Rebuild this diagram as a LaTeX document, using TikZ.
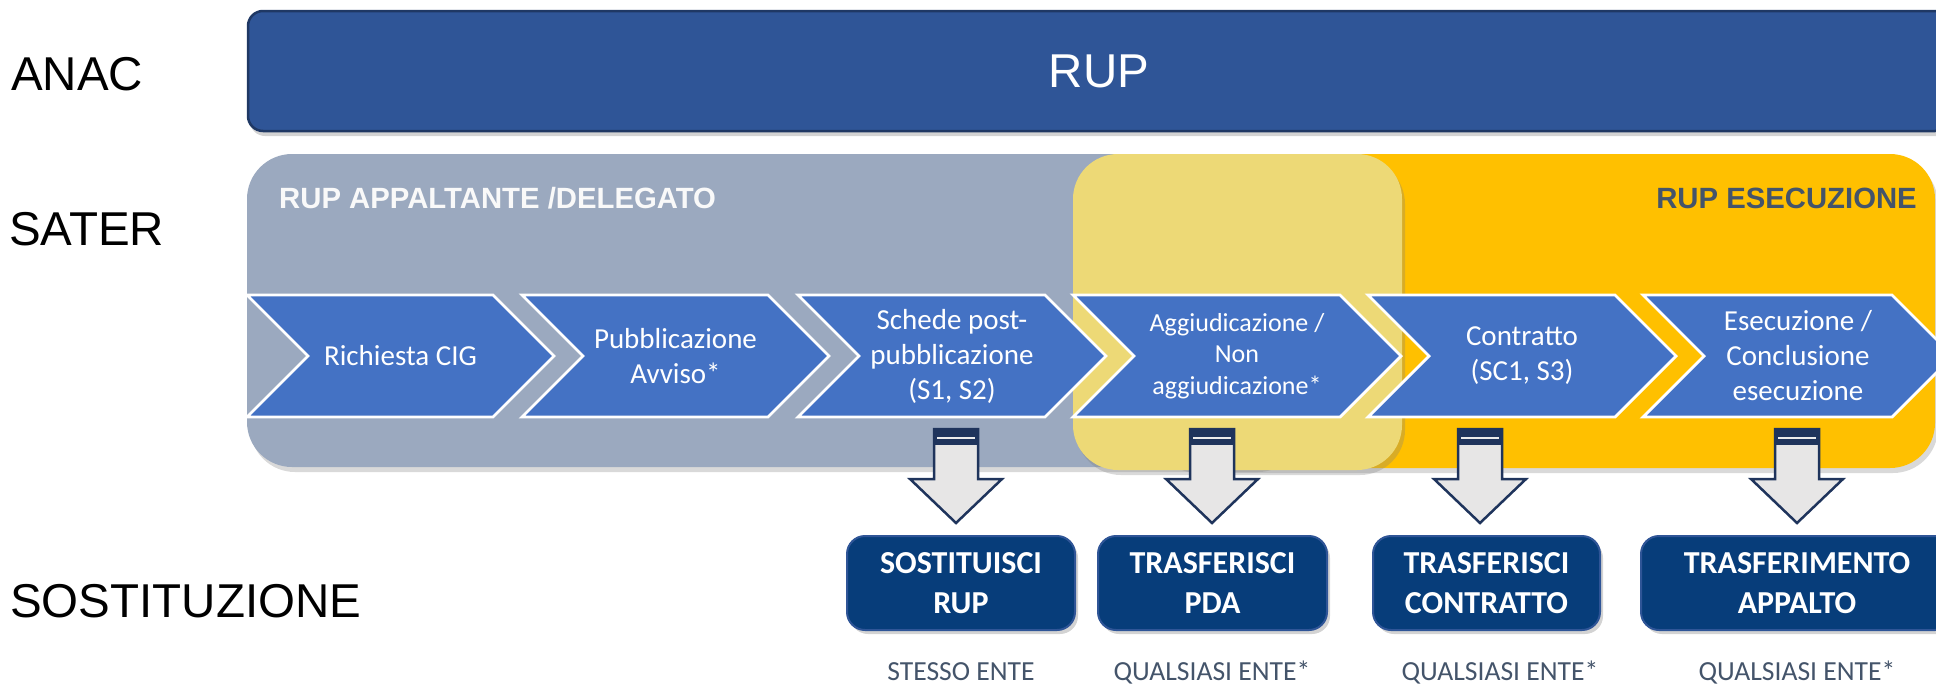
\documentclass[tikz,border=0pt]{standalone}
\usepackage{fontspec}
\setmainfont{Carlito}
\newfontfamily\arialf{Liberation Sans}
\usetikzlibrary{shadows}
\definecolor{rupblue}{RGB}{47,85,151}
\definecolor{rupborder}{RGB}{31,56,100}
\definecolor{grayreg}{RGB}{155,169,191}
\definecolor{lightyel}{RGB}{237,217,118}
\definecolor{yelreg}{RGB}{255,192,0}
\definecolor{chevblue}{RGB}{68,114,196}
\definecolor{boxblue}{RGB}{7,61,122}
\definecolor{boxborder}{RGB}{47,85,151}
\definecolor{slate}{RGB}{68,84,106}
\definecolor{arrdark}{RGB}{31,52,92}
\definecolor{arrfill}{RGB}{231,230,230}
\tikzset{
 chev/.style={fill=chevblue, draw=white, line width=2.8pt, line join=miter},
 chevtext/.style={text=white, align=center, inner sep=0pt, font=\fontsize{29}{35}\selectfont},
 lanelabel/.style={anchor=base west, inner sep=0pt, font=\arialf\fontsize{47.5}{57}\selectfont},
 regtitle/.style={inner sep=0pt, font=\arialf\bfseries\fontsize{29.3}{35}\selectfont},
 sostbox/.style={fill=boxblue, draw=boxborder, line width=2pt, rounded corners=18pt, minimum height=94pt, text=white, align=center, inner sep=0pt, font=\bfseries\fontsize{32}{40}\selectfont, drop shadow={opacity=0.35, shadow xshift=3pt, shadow yshift=-4pt}},
 enttext/.style={anchor=base, inner sep=0pt, text=slate, font=\fontsize{27.6}{33}\selectfont},
 regshadow/.style={drop shadow={opacity=0.3, shadow xshift=3pt, shadow yshift=-5pt}},
 arrbody/.style={fill=arrfill, draw=arrdark, line width=2.5pt, line join=miter},
}
\newcommand\chevron[2]{%
 \draw[chev] (#1,295) -- ++(#2,0) -- ++(61,61) -- ++(-61,61) -- ++(-#2,0) -- ++(61,-61) -- cycle;}
\newcommand\sostarrow[1]{%
 \begin{scope}[shift={(#1)}]
  \draw[arrbody] (-22,0) -- (22,0) -- (22,50) -- (46,50) -- (0,94) -- (-46,50) -- (-22,50) -- cycle;
  \fill[arrdark] (-22,0) rectangle (22,16);
  \draw[white!85!gray, line width=2.5pt] (-19,9) -- (19,9);
 \end{scope}}
\begin{document}
\begin{tikzpicture}[x=1pt,y=-1pt]
\useasboundingbox (0,0) rectangle (1936,683);
\clip (0,0) rectangle (1936,683);
% lane labels
\node[lanelabel] (lanac) at (11,90) {ANAC};
\node[lanelabel] (lsater) at (9,245) {SATER};
\node[lanelabel] (lsost) at (10,617) {SOSTITUZIONE};
% RUP bar
\node[draw=rupborder, fill=rupblue, line width=2.5pt, rounded corners=15pt,
      minimum width=1702pt, minimum height=120pt, inner sep=0pt, text=white,
      font=\arialf\fontsize{47.5}{57}\selectfont,
      drop shadow={opacity=0.35, shadow xshift=2pt, shadow yshift=-5pt}] (rup) at (1099,71) {RUP};
% regions
\fill[grayreg, rounded corners=45pt, regshadow] (247,154) rectangle (1300,467);
\fill[yelreg, rounded corners=45pt, regshadow] (1150,154) rectangle (1935,468);
\fill[lightyel, rounded corners=45pt, regshadow] (1073,154) rectangle (1402,470);
\node[regtitle, anchor=base west, text=white!95!gray] (tapp) at (279,208) {RUP APPALTANTE /DELEGATO};
\node[regtitle, anchor=base east, text=slate] (tese) at (1917,208) {RUP ESECUZIONE};
% chevrons
\chevron{247}{246}
\chevron{522}{246}
\chevron{798}{247}
\chevron{1073}{267}
\chevron{1368}{247}
\chevron{1643}{249}
\node[chevtext] (c1) at (400.5,356) {Richiesta CIG};
\node[chevtext] (c2) at (675.5,356) {Pubblicazione\\Avviso*};
\node[chevtext] (c3) at (952,356) {Schede post-\\pubblicazione\\(S1, S2)};
\node[chevtext, font=\fontsize{26}{31.5}\selectfont] (c4) at (1237,356) {Aggiudicazione /\\Non\\aggiudicazione*};
\node[chevtext] (c5) at (1522,356) {Contratto\\(SC1, S3)};
\node[chevtext] (c6) at (1798,356) {Esecuzione /\\Conclusione\\esecuzione};
% arrows
\coordinate (a1) at (956,429);
\coordinate (a2) at (1212,429);
\coordinate (a3) at (1480,429);
\coordinate (a4) at (1797,429);
\sostarrow{a1}
\sostarrow{a2}
\sostarrow{a3}
\sostarrow{a4}
% boxes
\node[sostbox, minimum width=228pt] (b1) at (961,583) {SOSTITUISCI\\RUP};
\node[sostbox, minimum width=229pt] (b2) at (1212.5,583) {TRASFERISCI\\PDA};
\node[sostbox, minimum width=227pt] (b3) at (1486.5,583) {TRASFERISCI\\CONTRATTO};
\node[sostbox, minimum width=312pt] (b4) at (1797,583) {TRASFERIMENTO\\APPALTO};
% entity texts
\node[enttext] (t1) at (961,680) {STESSO ENTE};
\node[enttext] (t2) at (1212,680) {QUALSIASI ENTE*};
\node[enttext] (t3) at (1500,680) {QUALSIASI ENTE*};
\node[enttext] (t4) at (1797,680) {QUALSIASI ENTE*};
\end{tikzpicture}
\end{document}
